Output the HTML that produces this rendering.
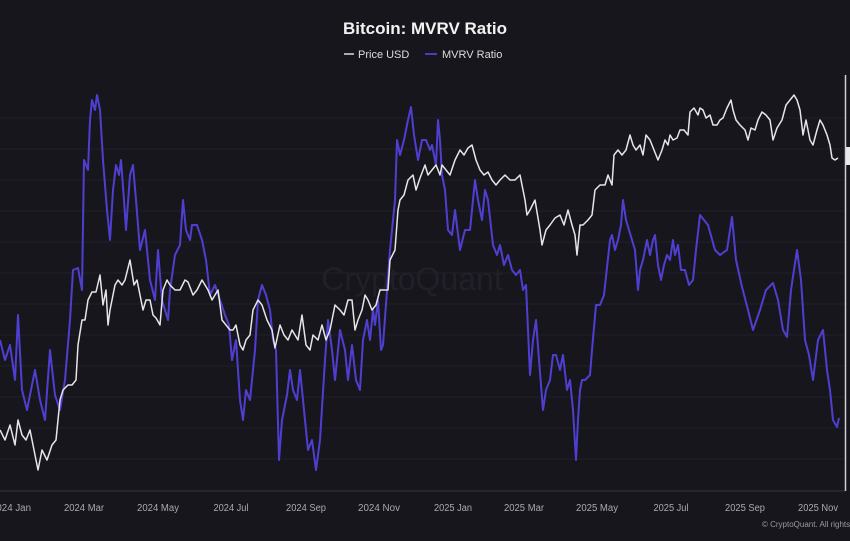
<!DOCTYPE html>
<html><head><meta charset="utf-8"><style>
html,body{margin:0;padding:0;background:#17161d;}
svg{display:block;}
</style></head><body>
<svg width="850" height="541" viewBox="0 0 850 541" xmlns="http://www.w3.org/2000/svg" font-family="Liberation Sans, sans-serif">
<rect width="850" height="541" fill="#17161d"/>
<g stroke="#201f28" stroke-width="1">
<line x1="0" y1="118" x2="845" y2="118"/><line x1="0" y1="149" x2="845" y2="149"/><line x1="0" y1="180" x2="845" y2="180"/><line x1="0" y1="211" x2="845" y2="211"/><line x1="0" y1="242" x2="845" y2="242"/><line x1="0" y1="273" x2="845" y2="273"/><line x1="0" y1="304" x2="845" y2="304"/><line x1="0" y1="335" x2="845" y2="335"/><line x1="0" y1="366" x2="845" y2="366"/><line x1="0" y1="397" x2="845" y2="397"/><line x1="0" y1="428" x2="845" y2="428"/><line x1="0" y1="459" x2="845" y2="459"/>
</g>
<line x1="0" y1="491" x2="845" y2="491" stroke="#34333f" stroke-width="1"/>
<line x1="845.5" y1="75" x2="845.5" y2="491" stroke="#cfcfd4" stroke-width="1.5"/>
<rect x="846" y="147" width="4" height="18" fill="#e8e8ea"/>
<text x="412" y="290" font-size="32" fill="#212029" text-anchor="middle">CryptoQuant</text>
<text x="425" y="34" font-size="17" font-weight="bold" fill="#f2f2f2" text-anchor="middle">Bitcoin: MVRV Ratio</text>
<line x1="344" y1="54" x2="354" y2="54" stroke="#ddd" stroke-width="1.5"/>
<text x="358" y="58" font-size="11" fill="#ddd">Price USD</text>
<line x1="425" y1="54" x2="437" y2="54" stroke="#4b3cc8" stroke-width="2"/>
<text x="442" y="58" font-size="11" fill="#ddd">MVRV Ratio</text>
<polyline fill="none" stroke="#4f3fd0" stroke-width="2" stroke-linejoin="round" points="0,340 5,360 10,345 15,380 18,315 22,390 27,410 30,395 35,370 40,400 45,420 50,350 55,395 60,410 65,380 70,320 73,270 78,268 82,290 84,160 88,170 90,120 92,100 95,110 97,95 100,110 103,160 107,210 110,240 113,190 116,165 119,175 121,160 124,200 126,230 130,175 133,165 136,200 140,250 145,230 150,280 155,300 158,250 162,300 168,320 170,290 175,255 180,245 183,200 186,230 190,240 192,225 197,225 202,240 206,260 210,295 215,285 220,300 225,315 229,325 232,360 236,340 240,400 243,420 246,390 250,400 255,350 258,300 262,285 266,295 270,310 273,340 276,350 279,460 282,420 287,395 290,370 293,390 297,400 300,370 305,420 308,450 312,440 316,470 320,440 325,360 328,320 332,350 335,380 340,330 345,350 348,380 352,345 356,380 360,390 363,340 367,320 370,340 373,310 375,325 378,300 381,350 383,345 390,250 395,200 397,140 400,155 404,140 408,120 411,107 414,135 418,160 422,140 426,140 430,150 432,145 436,165 438,120 440,140 442,175 445,190 448,230 452,235 455,210 460,250 465,230 470,230 475,180 478,200 482,220 485,190 488,200 493,245 497,255 500,245 504,265 508,255 512,270 516,275 520,270 523,290 526,285 528,330 530,375 533,340 536,320 539,360 543,410 546,390 550,380 553,355 556,355 560,370 563,355 567,390 570,380 573,410 576,460 578,420 580,390 582,380 585,380 590,375 592,350 596,305 600,305 604,295 610,240 612,235 615,250 618,240 621,225 623,200 626,220 629,230 632,240 635,250 638,290 640,270 643,260 647,240 650,255 653,240 655,235 658,265 661,280 664,265 667,255 670,260 673,240 675,255 678,245 681,270 685,270 689,285 693,280 696,250 700,215 708,225 715,250 720,255 727,250 732,217 736,260 742,287 748,310 753,330 760,310 766,290 773,283 778,300 783,330 787,337 791,290 797,250 801,280 805,340 809,355 813,380 818,340 823,330 827,370 830,390 833,420 837,427 839,418"/>
<polyline fill="none" stroke="#e6e6e8" stroke-width="1.5" stroke-linejoin="round" points="0,430 5,440 10,425 15,445 18,420 22,435 26,440 30,430 35,455 38,470 42,450 47,460 52,445 56,440 60,400 63,390 68,385 72,385 76,380 78,345 82,320 85,320 88,300 92,292 96,292 100,275 103,305 106,290 108,325 110,310 115,285 118,280 122,285 125,280 130,260 134,285 137,280 140,295 143,310 146,300 150,300 153,315 156,318 160,325 163,290 167,280 170,285 175,290 180,290 185,280 188,282 193,295 197,290 202,280 205,285 208,290 212,300 218,290 222,320 226,325 230,330 233,330 236,325 240,345 243,350 246,340 250,335 253,310 258,300 262,305 267,320 272,330 275,348 280,325 284,335 288,340 292,330 298,340 302,315 306,345 310,350 313,335 318,340 322,325 326,340 330,330 335,305 340,310 344,315 348,300 352,300 355,330 358,320 362,310 365,295 368,300 372,310 376,305 380,290 383,290 388,290 390,260 395,250 398,210 400,200 404,195 408,180 413,175 416,190 420,178 425,165 428,175 432,170 436,165 440,175 442,165 446,170 450,175 455,160 460,150 464,155 468,148 472,145 476,160 480,170 484,175 488,172 492,180 496,185 500,180 505,175 510,180 515,180 520,175 525,200 527,215 530,210 535,200 540,230 542,245 546,230 550,225 555,218 560,215 564,225 568,210 572,225 575,235 577,255 580,225 583,225 588,220 592,215 595,190 600,185 605,185 608,175 612,185 614,155 618,150 622,155 626,150 630,135 633,145 636,150 640,145 643,155 646,135 650,140 654,150 658,160 662,150 665,140 668,145 670,135 673,140 677,138 680,130 684,130 688,135 690,112 694,108 698,115 700,108 703,110 706,118 710,115 713,125 717,125 720,120 723,118 727,108 731,100 733,110 736,120 740,125 745,130 748,140 751,128 755,130 758,120 762,112 766,115 770,120 773,140 777,128 782,120 786,105 790,100 794,95 797,100 800,110 803,135 806,120 810,140 813,145 817,130 820,120 823,125 827,135 830,145 832,158 835,160 838,158"/>
<g font-size="10" fill="#a9a9b0" text-anchor="middle" transform="translate(0,0)">
<text x="11" y="511" textLength="40" lengthAdjust="spacingAndGlyphs">2024 Jan</text><text x="84" y="511" textLength="40" lengthAdjust="spacingAndGlyphs">2024 Mar</text><text x="158" y="511" textLength="42" lengthAdjust="spacingAndGlyphs">2024 May</text><text x="231" y="511" textLength="35" lengthAdjust="spacingAndGlyphs">2024 Jul</text><text x="306" y="511" textLength="40" lengthAdjust="spacingAndGlyphs">2024 Sep</text><text x="379" y="511" textLength="42" lengthAdjust="spacingAndGlyphs">2024 Nov</text><text x="453" y="511" textLength="38" lengthAdjust="spacingAndGlyphs">2025 Jan</text><text x="524" y="511" textLength="40" lengthAdjust="spacingAndGlyphs">2025 Mar</text><text x="597" y="511" textLength="42" lengthAdjust="spacingAndGlyphs">2025 May</text><text x="671" y="511" textLength="35" lengthAdjust="spacingAndGlyphs">2025 Jul</text><text x="745" y="511" textLength="40" lengthAdjust="spacingAndGlyphs">2025 Sep</text><text x="818" y="511" textLength="40" lengthAdjust="spacingAndGlyphs">2025 Nov</text>
</g>
<text x="762" y="527" font-size="8" fill="#9a9aa2">© CryptoQuant. All rights</text>
</svg>
</body></html>
